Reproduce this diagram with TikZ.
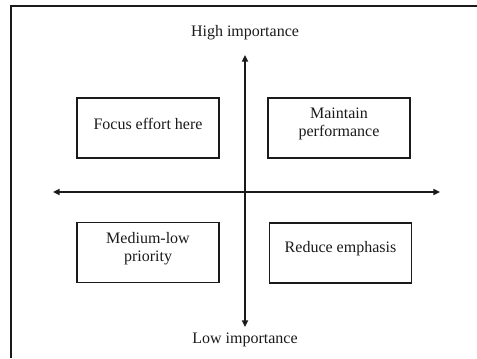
\documentclass[tikz,border=0pt]{standalone}
\usepackage{fontspec}
\setmainfont{Liberation Serif}
\usetikzlibrary{arrows.meta}
\definecolor{ink}{HTML}{1A1A1A}
\newcommand{\txt}{\fontsize{12}{13.5}\selectfont}
\tikzset{achse/.style={ink,line width=1.4pt,
    {Triangle[length=5pt,width=4.5pt]}-{Triangle[length=5pt,width=4.5pt]}},
  feld/.style={draw=ink,line width=0.8pt,minimum width=106.5pt,minimum height=45pt,inner sep=0pt},
  inhalt/.style={inner sep=0pt,align=center,text=ink,font=\txt,yshift=3pt},
  pol/.style={inner sep=0pt,text=ink,font=\txt}}

\begin{document}
\begin{tikzpicture}[x=0.75pt,y=0.75pt]
\useasboundingbox (0,0) rectangle (477,358);
\draw[ink,line width=1.1pt] (11,0) -- (11,352) -- (477,352);
\coordinate (oben) at (245,303);
\coordinate (unten) at (245,31);
\coordinate (links) at (53,166);
\coordinate (rechts) at (440,166);
\draw[achse] (unten) -- (oben);
\draw[achse] (links) -- (rechts);
\node[pol] (hoch) at (245,325) {High importance};
\node[pol] (tief) at (245,18) {Low importance};
\node[feld,label={[inhalt]center:Focus effort here}] (fokus) at (148,230) {};
\node[feld,label={[inhalt]center:{Maintain\\performance}}] (halten) at (339,230) {};
\node[feld,label={[inhalt]center:{Medium-low\\priority}}] (mittel) at (148,105.5) {};
\node[feld,label={[inhalt]center:Reduce emphasis}] (senken) at (340.5,105) {};
\end{tikzpicture}
\end{document}
